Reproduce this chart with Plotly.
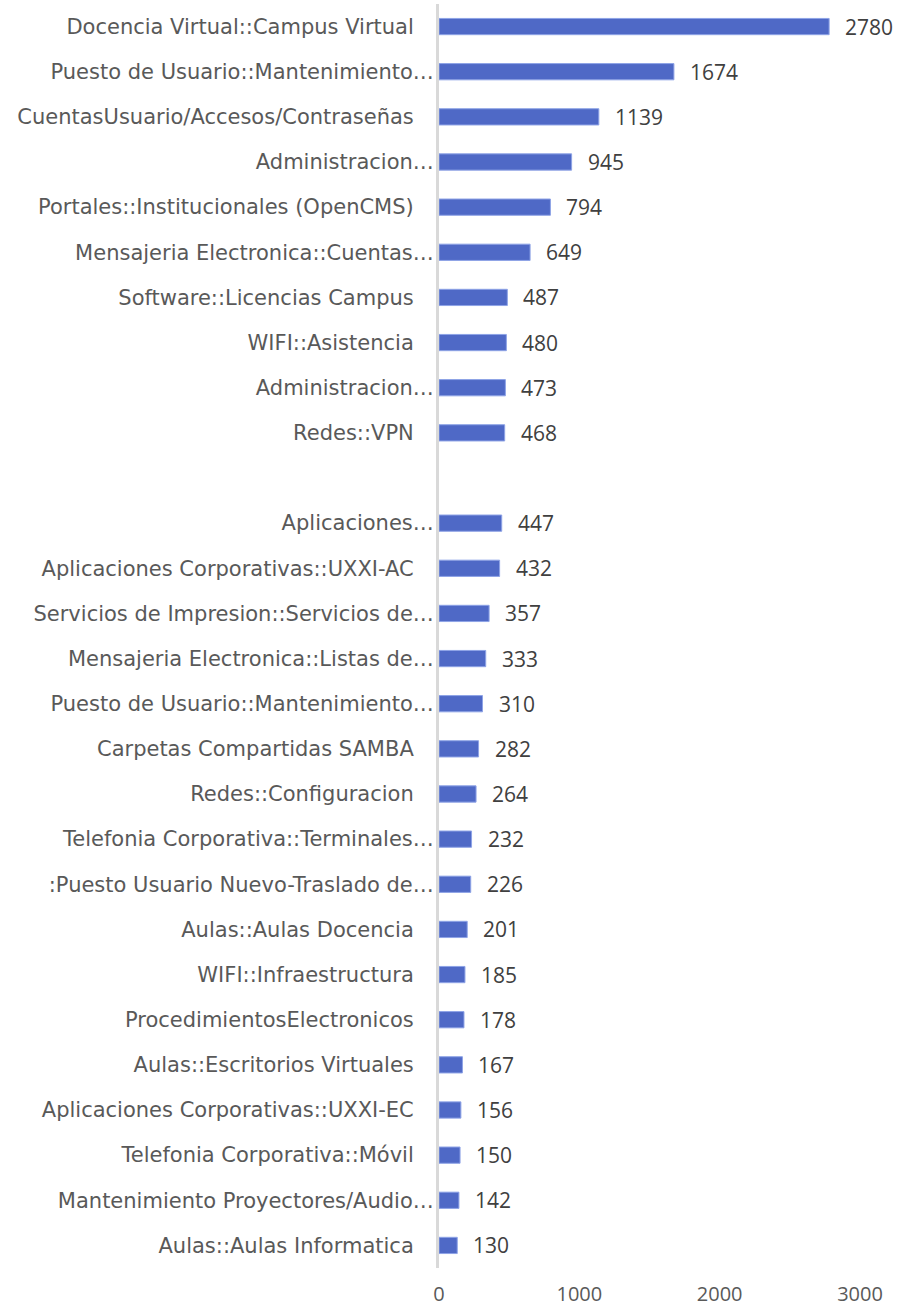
import plotly.graph_objects as go

categories = [
    "Docencia Virtual::Campus Virtual",
    "Puesto de Usuario::Mantenimiento…",
    "CuentasUsuario/Accesos/Contraseñas",
    "Administracion…",
    "Portales::Institucionales (OpenCMS)",
    "Mensajeria Electronica::Cuentas…",
    "Software::Licencias Campus",
    "WIFI::Asistencia",
    "Administracion…",
    "Redes::VPN",
    "",
    "Aplicaciones…",
    "Aplicaciones Corporativas::UXXI-AC",
    "Servicios de Impresion::Servicios de…",
    "Mensajeria Electronica::Listas de…",
    "Puesto de Usuario::Mantenimiento…",
    "Carpetas Compartidas SAMBA",
    "Redes::Configuracion",
    "Telefonia Corporativa::Terminales…",
    ":Puesto Usuario Nuevo-Traslado de…",
    "Aulas::Aulas Docencia",
    "WIFI::Infraestructura",
    "ProcedimientosElectronicos",
    "Aulas::Escritorios Virtuales",
    "Aplicaciones Corporativas::UXXI-EC",
    "Telefonia Corporativa::Móvil",
    "Mantenimiento Proyectores/Audio…",
    "Aulas::Aulas Informatica",
]
values = [2780, 1674, 1139, 945, 794, 649, 487, 480, 473, 468, None,
          447, 432, 357, 333, 310, 282, 264, 232, 226, 201, 185, 178,
          167, 156, 150, 142, 130]
x_ticks = [0, 1000, 2000, 3000]

positions = list(range(len(categories)))
ticktext = [c if (c.endswith("…") or c == "") else c + "\u00a0\u00a0\u00a0" for c in categories]

fig = go.Figure()
fig.add_trace(go.Bar(
    x=values, y=positions, orientation="h",
    marker=dict(color="#4F69C6", line=dict(color="#8EA3E6", width=1)),
    width=0.36,
    hoverinfo="x",
))

for p, v in zip(positions, values):
    if v is None:
        continue
    fig.add_annotation(x=v, y=p, text=str(v), showarrow=False,
                       xanchor="left", yanchor="middle", xshift=14,
                       font=dict(family="Open Sans", size=21, color="#404040"))

fig.update_layout(
    width=899, height=1309,
    margin=dict(l=439, r=39, t=4, b=41),
    paper_bgcolor="white", plot_bgcolor="white",
    showlegend=False,
    xaxis=dict(range=[0, 3000], tickvals=x_ticks, ticktext=[str(t) for t in x_ticks],
               showgrid=False, zeroline=False, showline=False,
               tickfont=dict(family="Open Sans", size=20, color="#595959"),
               ticks="", ticklabelstandoff=12, automargin=False),
    yaxis=dict(range=[len(categories) - 0.5, -0.5], tickvals=positions, ticktext=ticktext,
               showgrid=False, zeroline=False, showline=True, linecolor="#D9D9D9", linewidth=3,
               ticks="", ticklabelstandoff=-2, automargin=False,
               tickfont=dict(family="DejaVu Sans", size=21, color="#595959")),
)

fig.write_html("out.html", config={"displayModeBar": False},
               post_script="document.body.style.margin='0';")
